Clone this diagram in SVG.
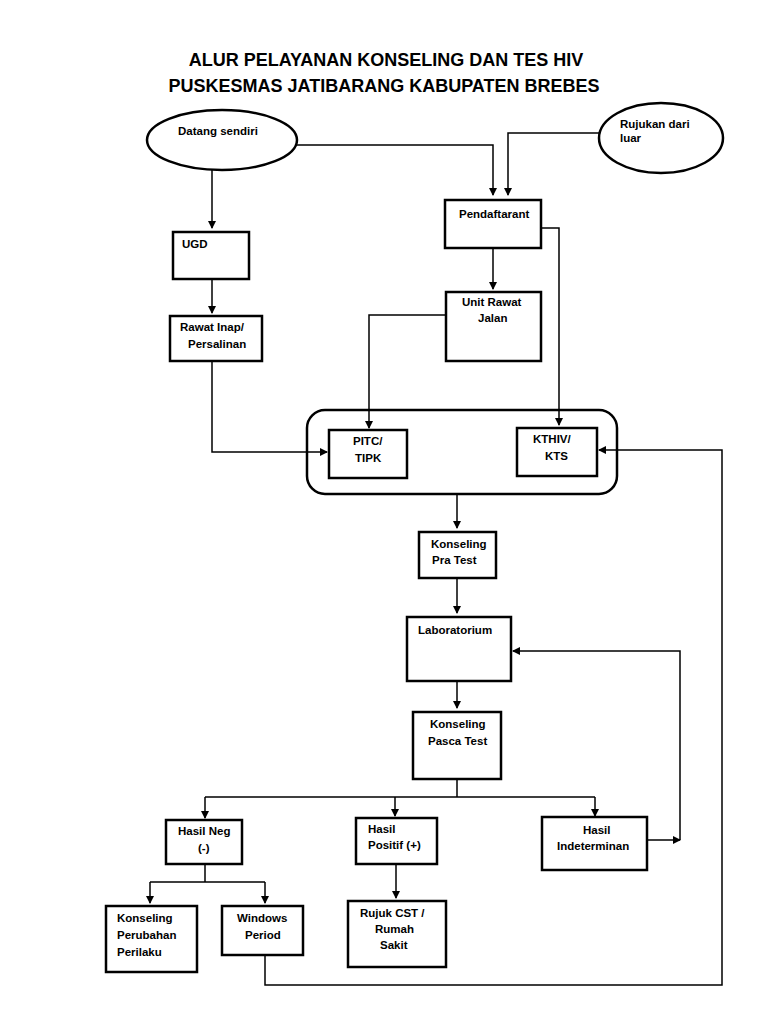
<svg xmlns="http://www.w3.org/2000/svg" width="768" height="1024" viewBox="0 0 768 1024">
<defs>
<marker id="a" markerWidth="8" markerHeight="8" refX="7" refY="4" orient="auto" markerUnits="userSpaceOnUse"><path d="M0,0 L8,4 L0,8 Z" fill="#000"/></marker>
<style>
.b{fill:#fff;stroke:#000;stroke-width:2.5}
.t{font-family:"Liberation Sans",Arial,sans-serif;font-weight:bold;font-size:11.5px;fill:#000}
.h{font-family:"Liberation Sans",Arial,sans-serif;font-weight:bold;font-size:18px;fill:#000;text-anchor:middle}
.c{fill:none;stroke:#000;stroke-width:1.5}
.m{marker-end:url(#a)}
</style>
</defs>
<rect width="768" height="1024" fill="#fff"/>
<text class="h" x="386" y="66">ALUR PELAYANAN KONSELING DAN TES HIV</text>
<text class="h" x="384" y="92">PUSKESMAS JATIBARANG KABUPATEN BREBES</text>
<g id="connectors">
<path class="c m" d="M297,145 H493 V195"/>
<path class="c m" d="M600,133 H508 V195"/>
<path class="c m" d="M212,170 V228"/>
<path class="c m" d="M212,279 V313"/>
<path class="c m" d="M212,361 V452 H327"/>
<path class="c m" d="M493,248 V289"/>
<path class="c m" d="M446,315 H369 V428"/>
<path class="c m" d="M541,228 H559 V425"/>
<path class="c m" d="M265,955 V985 H722 V450 H599"/>
<path class="c m" d="M457,494 V528"/>
<path class="c m" d="M457,578 V613"/>
<path class="c m" d="M680,840 V651 H513"/>
<path class="c m" d="M647,840 H680"/>
<path class="c m" d="M457,681 V708"/>
<path class="c" d="M457,779 V797 M205,797 H595"/>
<path class="c m" d="M205,797 V818"/>
<path class="c m" d="M395,797 V816"/>
<path class="c m" d="M595,797 V816"/>
<path class="c" d="M205,864 V882 M150,882 H265"/>
<path class="c m" d="M150,882 V903"/>
<path class="c m" d="M265,882 V903"/>
<path class="c m" d="M396,864 V898"/>
</g>
<g id="datang"><ellipse class="b" cx="222" cy="140" rx="75" ry="30"/><text class="t" x="178" y="135">Datang sendiri</text></g>
<g id="rujukan"><ellipse class="b" cx="661" cy="138" rx="62" ry="35"/><text class="t" x="620" y="128">Rujukan dari</text><text class="t" x="620" y="142">luar</text></g>
<g id="ugd"><rect class="b" x="173" y="232" width="76" height="47"/><text class="t" x="182" y="248">UGD</text></g>
<g id="rawatinap"><rect class="b" x="170" y="316" width="92" height="45"/><text class="t" x="180" y="331">Rawat Inap/</text><text class="t" x="188" y="348">Persalinan</text></g>
<g id="pendaftaran"><rect class="b" x="445" y="200" width="96" height="48"/><text class="t" x="459" y="218">Pendaftarant</text></g>
<g id="unitrawat"><rect class="b" x="446" y="292" width="95" height="69"/><text class="t" x="462" y="306">Unit Rawat</text><text class="t" x="478" y="322">Jalan</text></g>
<g id="container"><rect x="307" y="410" width="310" height="84" rx="18" fill="none" stroke="#000" stroke-width="2.5"/></g>
<g id="pitc"><rect class="b" x="329" y="430" width="78" height="48"/><text class="t" x="353" y="445">PITC/</text><text class="t" x="355" y="462">TIPK</text></g>
<g id="kthiv"><rect class="b" x="517" y="428" width="80" height="48"/><text class="t" x="533" y="443">KTHIV/</text><text class="t" x="545" y="460">KTS</text></g>
<g id="prates"><rect class="b" x="419" y="532" width="77" height="46"/><text class="t" x="431" y="548">Konseling</text><text class="t" x="432" y="564">Pra Test</text></g>
<g id="lab"><rect class="b" x="407" y="617" width="104" height="64"/><text class="t" x="418" y="634">Laboratorium</text></g>
<g id="pasca"><rect class="b" x="413" y="712" width="88" height="67"/><text class="t" x="430" y="728">Konseling</text><text class="t" x="428" y="745">Pasca Test</text></g>
<g id="neg"><rect class="b" x="166" y="820" width="76" height="44"/><text class="t" x="178" y="835">Hasil Neg</text><text class="t" x="198" y="852">(-)</text></g>
<g id="pos"><rect class="b" x="356" y="818" width="81" height="46"/><text class="t" x="368" y="833">Hasil</text><text class="t" x="368" y="849">Positif (+)</text></g>
<g id="indet"><rect class="b" x="542" y="817" width="105" height="53"/><text class="t" x="583" y="834">Hasil</text><text class="t" x="557" y="850">Indeterminan</text></g>
<g id="perilaku"><rect class="b" x="106" y="906" width="91" height="66"/><text class="t" x="117" y="922">Konseling</text><text class="t" x="117" y="939">Perubahan</text><text class="t" x="117" y="956">Perilaku</text></g>
<g id="windows"><rect class="b" x="222" y="906" width="81" height="49"/><text class="t" x="237" y="922">Windows</text><text class="t" x="245" y="939">Period</text></g>
<g id="rujukcst"><rect class="b" x="348" y="901" width="98" height="66"/><text class="t" x="360" y="917">Rujuk CST /</text><text class="t" x="375" y="933">Rumah</text><text class="t" x="380" y="949">Sakit</text></g>
</svg>
